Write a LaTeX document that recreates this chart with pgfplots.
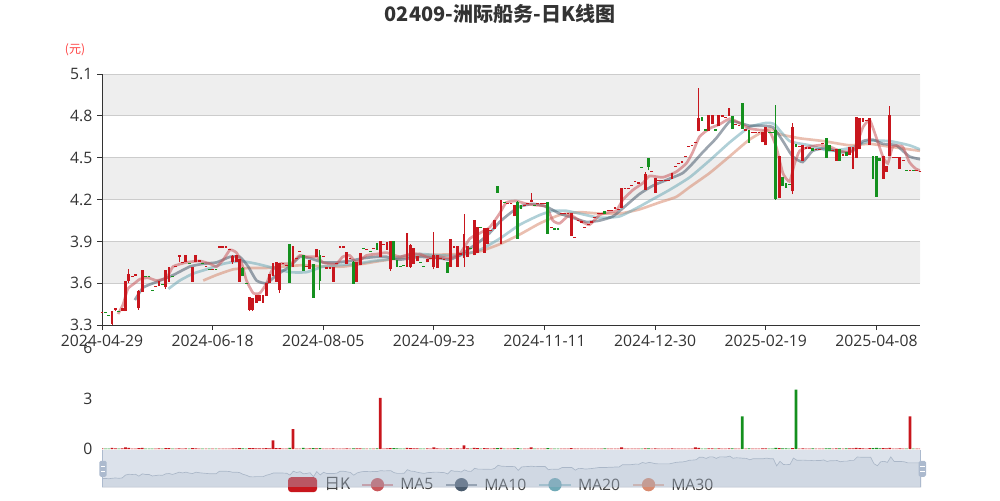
\documentclass[border=0pt]{standalone}
\usepackage{fontspec}
\setmainfont{Open Sans}
\newfontfamily\cjk{Noto Sans CJK SC}
\usepackage{pgfplots}
\usepackage{pgfplotstable}
\pgfplotsset{compat=1.18}
\definecolor{cred}{HTML}{C8161D}
\definecolor{cgreen}{HTML}{14901E}
\definecolor{axc}{HTML}{333333}
\definecolor{gridc}{HTML}{CCCCCC}
\definecolor{bandc}{HTML}{EEEEEE}
\definecolor{labc}{HTML}{333333}
\definecolor{legc}{HTML}{444444}
\definecolor{ma5}{HTML}{C9575B}
\definecolor{ma10}{HTML}{4A5B6D}
\definecolor{ma20}{HTML}{6FA9B6}
\definecolor{ma30}{HTML}{D88B70}
\definecolor{slidefill}{HTML}{A7B7CC}
\definecolor{handlec}{HTML}{ACBACE}
\definecolor{shadowfill}{HTML}{C9D1DD}
\definecolor{shadowline}{HTML}{AEB8C6}
\pgfplotstableread{
i u o h l c v
0 1 3.39 3.39 3.39 3.39 0.05
1 0 3.39 3.39 3.39 3.39 0.03
2 0 3.37 3.37 3.37 3.37 0.03
3 1 3.31 3.40 3.30 3.40 0.08
4 1 3.41 3.42 3.40 3.42 0.05
5 0 3.40 3.40 3.40 3.40 0.03
6 1 3.40 3.42 3.40 3.42 0.05
7 1 3.40 3.61 3.40 3.61 0.10
8 1 3.62 3.70 3.60 3.66 0.08
9 1 3.65 3.65 3.65 3.65 0.03
10 1 3.66 3.66 3.66 3.66 0.03
11 1 3.42 3.55 3.41 3.54 0.06
12 1 3.54 3.69 3.54 3.69 0.08
13 0 3.65 3.65 3.65 3.65 0.03
14 0 3.65 3.65 3.65 3.65 0.03
15 0 3.55 3.55 3.55 3.55 0.03
16 1 3.58 3.58 3.58 3.58 0.03
17 1 3.58 3.61 3.58 3.61 0.05
18 0 3.59 3.59 3.59 3.59 0.03
19 1 3.57 3.69 3.56 3.69 0.06
20 1 3.61 3.71 3.61 3.71 0.06
21 0 3.65 3.65 3.65 3.65 0.03
22 1 3.72 3.72 3.72 3.72 0.03
23 1 3.79 3.80 3.75 3.80 0.05
24 1 3.75 3.75 3.75 3.75 0.03
25 1 3.75 3.80 3.75 3.80 0.05
26 0 3.74 3.74 3.74 3.74 0.03
27 1 3.61 3.71 3.61 3.71 0.06
28 1 3.75 3.80 3.75 3.80 0.05
29 1 3.76 3.76 3.76 3.76 0.03
30 0 3.74 3.74 3.74 3.74 0.03
31 1 3.72 3.72 3.72 3.72 0.03
32 0 3.70 3.70 3.70 3.70 0.03
33 1 3.70 3.70 3.70 3.70 0.03
34 0 3.70 3.70 3.70 3.70 0.03
35 1 3.86 3.86 3.86 3.86 0.03
36 1 3.86 3.86 3.86 3.86 0.03
37 1 3.86 3.86 3.86 3.86 0.03
38 1 3.84 3.84 3.84 3.84 0.03
39 1 3.75 3.80 3.74 3.79 0.05
40 1 3.75 3.80 3.75 3.80 0.05
41 1 3.61 3.77 3.61 3.77 0.06
42 0 3.71 3.72 3.66 3.66 0.05
43 0 3.60 3.60 3.60 3.60 0.03
44 1 3.41 3.50 3.40 3.50 0.06
45 1 3.41 3.49 3.40 3.49 0.06
46 1 3.46 3.51 3.46 3.51 0.05
47 1 3.47 3.51 3.47 3.51 0.05
48 1 3.46 3.51 3.46 3.51 0.05
49 1 3.51 3.60 3.51 3.60 0.06
50 1 3.60 3.66 3.60 3.66 0.05
51 1 3.65 3.74 3.65 3.74 0.52
52 1 3.61 3.75 3.61 3.75 0.06
53 1 3.55 3.74 3.53 3.74 0.06
54 1 3.74 3.74 3.74 3.74 0.03
55 1 3.73 3.73 3.73 3.73 0.03
56 0 3.88 3.88 3.61 3.61 0.08
57 1 3.72 3.86 3.72 3.86 1.19
58 1 3.78 3.78 3.78 3.78 0.03
59 1 3.83 3.83 3.83 3.83 0.03
60 0 3.80 3.80 3.69 3.69 0.08
61 1 3.72 3.72 3.72 3.72 0.03
62 1 3.70 3.76 3.70 3.76 0.05
63 0 3.74 3.74 3.50 3.50 0.06
64 1 3.79 3.84 3.79 3.84 0.05
65 0 3.80 3.84 3.55 3.62 0.06
66 1 3.79 3.79 3.79 3.79 0.03
67 1 3.71 3.71 3.71 3.71 0.03
68 1 3.71 3.71 3.71 3.71 0.03
69 1 3.61 3.72 3.61 3.71 0.05
70 1 3.74 3.74 3.74 3.74 0.03
71 1 3.86 3.86 3.86 3.86 0.03
72 1 3.86 3.86 3.86 3.86 0.03
73 1 3.74 3.82 3.74 3.82 0.05
74 1 3.78 3.78 3.78 3.78 0.03
75 0 3.75 3.76 3.60 3.60 0.05
76 1 3.61 3.75 3.61 3.75 0.05
77 1 3.73 3.81 3.73 3.81 0.05
78 0 3.85 3.85 3.85 3.85 0.03
79 1 3.84 3.84 3.84 3.84 0.03
80 0 3.83 3.83 3.83 3.83 0.03
81 1 3.85 3.85 3.85 3.85 0.03
82 0 3.89 3.89 3.84 3.84 0.05
83 1 3.79 3.90 3.79 3.90 3.04
84 1 3.88 3.88 3.88 3.88 0.03
85 1 3.84 3.89 3.84 3.89 0.05
86 1 3.70 3.90 3.69 3.90 0.06
87 0 3.90 3.90 3.77 3.77 0.06
88 0 3.77 3.77 3.72 3.72 0.05
89 0 3.72 3.72 3.72 3.72 0.03
90 0 3.73 3.73 3.73 3.73 0.03
91 1 3.72 3.96 3.72 3.96 0.08
92 1 3.72 3.88 3.71 3.87 0.06
93 1 3.74 3.85 3.74 3.85 0.05
94 1 3.76 3.79 3.76 3.79 0.05
95 0 3.75 3.75 3.75 3.75 0.03
96 0 3.72 3.72 3.72 3.72 0.03
97 1 3.75 3.77 3.75 3.77 0.05
98 1 3.78 3.78 3.78 3.78 0.03
99 1 3.72 3.97 3.70 3.80 0.10
100 1 3.71 3.80 3.71 3.80 0.05
101 1 3.78 3.78 3.78 3.78 0.03
102 1 3.77 3.77 3.77 3.77 0.03
103 0 3.75 3.75 3.68 3.68 0.05
104 1 3.72 3.91 3.72 3.91 0.06
105 1 3.86 3.86 3.86 3.86 0.03
106 1 3.72 3.86 3.72 3.86 0.05
107 1 3.81 3.81 3.81 3.81 0.03
108 1 3.78 4.10 3.72 3.95 0.22
109 1 3.79 3.86 3.79 3.86 0.05
110 0 3.85 3.85 3.85 3.85 0.03
111 1 3.80 4.05 3.80 4.05 0.08
112 1 3.82 4.00 3.82 4.00 0.06
113 0 4.00 4.00 4.00 4.00 0.03
114 1 3.82 3.99 3.82 3.99 0.06
115 1 3.88 3.99 3.88 3.99 0.05
116 1 3.98 3.98 3.98 3.98 0.03
117 1 3.99 4.05 3.99 4.05 0.05
118 0 4.30 4.30 4.25 4.25 0.06
119 1 3.88 4.19 3.88 4.19 0.08
120 0 4.18 4.18 4.18 4.18 0.03
121 1 4.17 4.17 4.17 4.17 0.03
122 1 4.17 4.17 4.17 4.17 0.03
123 1 4.08 4.16 4.08 4.16 0.05
124 0 4.18 4.19 3.92 3.92 0.06
125 0 4.16 4.16 4.14 4.14 0.03
126 1 4.16 4.16 4.16 4.16 0.03
127 1 4.17 4.17 4.17 4.17 0.03
128 1 4.18 4.25 4.18 4.19 0.10
129 0 4.16 4.16 4.16 4.16 0.03
130 1 4.17 4.17 4.17 4.17 0.03
131 1 4.17 4.17 4.17 4.17 0.03
132 1 4.17 4.17 4.17 4.17 0.03
133 0 4.18 4.18 3.96 3.96 0.06
134 1 4.00 4.00 4.00 4.00 0.03
135 0 3.99 3.99 3.99 3.99 0.03
136 0 3.99 3.99 3.99 3.99 0.03
137 1 4.10 4.10 4.10 4.10 0.03
138 1 4.10 4.10 4.10 4.10 0.03
139 1 4.10 4.10 4.10 4.10 0.03
140 1 3.94 4.10 3.94 4.10 0.06
141 1 3.93 3.93 3.93 3.93 0.03
142 1 4.05 4.05 4.05 4.05 0.03
143 1 4.04 4.04 4.04 4.04 0.03
144 1 4.00 4.00 4.00 4.00 0.03
145 1 4.02 4.02 4.02 4.02 0.03
146 1 4.04 4.04 4.04 4.04 0.03
147 1 4.07 4.07 4.07 4.07 0.03
148 1 4.10 4.10 4.10 4.10 0.03
149 1 4.10 4.10 4.10 4.10 0.03
150 0 4.12 4.12 4.10 4.10 0.05
151 1 4.12 4.12 4.12 4.12 0.03
152 1 4.12 4.12 4.12 4.12 0.03
153 1 4.14 4.14 4.14 4.14 0.03
154 1 4.13 4.13 4.13 4.13 0.03
155 1 4.14 4.28 4.14 4.28 0.10
156 1 4.28 4.28 4.28 4.28 0.03
157 1 4.28 4.28 4.28 4.28 0.03
158 1 4.30 4.30 4.30 4.30 0.03
159 1 4.33 4.33 4.33 4.33 0.03
160 1 4.32 4.32 4.32 4.32 0.03
161 0 4.43 4.43 4.43 4.43 0.03
162 1 4.27 4.40 4.27 4.38 0.05
163 0 4.50 4.50 4.41 4.44 0.05
164 1 4.40 4.40 4.40 4.40 0.03
165 1 4.25 4.35 4.25 4.35 0.05
166 1 4.34 4.34 4.34 4.34 0.03
167 1 4.34 4.34 4.34 4.34 0.03
168 1 4.34 4.34 4.34 4.34 0.03
169 1 4.34 4.34 4.34 4.34 0.03
170 1 4.35 4.39 4.35 4.39 0.05
171 1 4.44 4.44 4.44 4.44 0.03
172 1 4.46 4.46 4.46 4.46 0.03
173 1 4.47 4.47 4.47 4.47 0.03
174 1 4.51 4.51 4.51 4.51 0.03
175 1 4.58 4.58 4.58 4.58 0.03
176 1 4.59 4.59 4.59 4.59 0.03
177 1 4.61 4.61 4.61 4.61 0.10
178 1 4.69 5.00 4.69 4.78 0.08
179 0 4.79 4.79 4.77 4.77 0.03
180 0 4.70 4.70 4.70 4.70 0.03
181 1 4.69 4.80 4.69 4.80 0.05
182 1 4.74 4.80 4.74 4.80 0.05
183 0 4.70 4.70 4.70 4.70 0.03
184 1 4.73 4.80 4.73 4.80 0.05
185 1 4.80 4.80 4.80 4.80 0.03
186 1 4.79 4.79 4.79 4.79 0.03
187 1 4.80 4.85 4.80 4.85 0.05
188 0 4.80 4.80 4.71 4.71 0.05
189 1 4.74 4.74 4.74 4.74 0.03
190 1 4.73 4.73 4.73 4.73 0.03
191 0 4.89 4.89 4.71 4.71 1.95
192 1 4.70 4.70 4.70 4.70 0.03
193 0 4.70 4.70 4.61 4.61 0.05
194 1 4.68 4.68 4.68 4.68 0.03
195 1 4.68 4.68 4.68 4.68 0.03
196 1 4.68 4.68 4.68 4.68 0.03
197 1 4.61 4.68 4.61 4.68 0.05
198 1 4.59 4.72 4.59 4.72 0.05
199 0 4.68 4.68 4.68 4.68 0.03
200 0 4.68 4.68 4.68 4.68 0.03
201 0 4.70 4.88 4.20 4.21 0.08
202 1 4.21 4.51 4.21 4.51 0.06
203 0 4.36 4.36 4.30 4.30 0.05
204 0 4.32 4.32 4.29 4.29 0.05
205 0 4.31 4.31 4.31 4.31 0.03
206 1 4.26 4.75 4.24 4.72 0.06
207 0 4.60 4.60 4.58 4.58 3.54
208 1 4.58 4.58 4.58 4.58 0.03
209 1 4.48 4.59 4.48 4.59 0.05
210 1 4.57 4.57 4.57 4.57 0.03
211 1 4.57 4.57 4.57 4.57 0.03
212 0 4.57 4.57 4.55 4.55 0.05
213 1 4.56 4.56 4.56 4.56 0.03
214 1 4.56 4.56 4.56 4.56 0.03
215 1 4.60 4.60 4.60 4.60 0.03
216 0 4.64 4.64 4.50 4.50 0.05
217 0 4.59 4.59 4.55 4.55 0.05
218 1 4.55 4.55 4.55 4.55 0.03
219 1 4.48 4.56 4.48 4.56 0.05
220 0 4.56 4.56 4.48 4.48 0.05
221 1 4.52 4.52 4.52 4.52 0.03
222 0 4.54 4.54 4.52 4.52 0.05
223 1 4.52 4.57 4.52 4.57 0.05
224 1 4.42 4.57 4.42 4.57 0.05
225 1 4.50 4.79 4.50 4.79 0.08
226 1 4.56 4.78 4.56 4.78 0.06
227 1 4.76 4.78 4.76 4.78 0.05
228 1 4.77 4.77 4.77 4.77 0.03
229 1 4.59 4.78 4.59 4.78 0.06
230 0 4.51 4.51 4.35 4.35 0.06
231 0 4.51 4.51 4.22 4.22 0.08
232 0 4.50 4.50 4.48 4.48 0.05
233 1 4.35 4.51 4.35 4.51 0.06
234 1 4.40 4.44 4.40 4.44 0.05
235 1 4.51 4.87 4.51 4.80 0.08
236 1 4.50 4.50 4.50 4.50 0.03
237 1 4.50 4.50 4.50 4.50 0.03
238 1 4.42 4.50 4.42 4.50 0.05
239 1 4.48 4.48 4.48 4.48 0.03
240 0 4.41 4.41 4.41 4.41 0.03
241 1 4.41 4.41 4.41 4.41 1.95
242 0 4.41 4.41 4.41 4.41 0.03
243 1 4.41 4.41 4.41 4.41 0.03
244 1 4.40 4.40 4.40 4.40 0.03
}\candles

\begin{document}
\begin{tikzpicture}
% ---------------- main K-line axis ----------------
\begin{axis}[
  set layers,
  at={(76.5pt,131.25pt)}, anchor=south west,
  scale only axis, width=613.5pt, height=188.25pt,
  xmin=0, xmax=244, ymin=3.3, ymax=5.1,
  axis lines*=left,
  axis line style={draw=axc, line width=0.75pt},
  ytick={3.3,3.6,3.9,4.2,4.5,4.8,5.1},
  yticklabels={3.3,3.6,3.9,4.2,4.5,4.8,5.1},
  xtick={0,33,66,99,132,165,198,231},
  xticklabels={2024-04-29,2024-06-18,2024-08-05,2024-09-23,2024-11-11,2024-12-30,2025-02-19,2025-04-08},
  tick align=outside, major tick length=3.75pt,
  tick style={draw=axc, line width=0.75pt},
  ymajorgrids, grid style={draw=gridc, line width=0.75pt},
  tick label style={font=\fontsize{11.8}{14}\selectfont, text=labc},
]
% background bands
\addplot[on layer=axis background, fill=bandc, draw=none, forget plot] coordinates {(0,4.8) (244,4.8) (244,5.1) (0,5.1) (0,4.8)};
\addplot[on layer=axis background, fill=bandc, draw=none, forget plot] coordinates {(0,4.2) (244,4.2) (244,4.5) (0,4.5) (0,4.2)};
\addplot[on layer=axis background, fill=bandc, draw=none, forget plot] coordinates {(0,3.6) (244,3.6) (244,3.9) (0,3.9) (0,3.6)};
% MA lines
\addplot[ma30, line width=2pt, opacity=0.55, smooth, tension=0.3] coordinates {
(30.2,3.62) (34.2,3.66) (39.1,3.70) (44.1,3.71) (49.1,3.71) (54,3.72) (60,3.73) (66,3.72) (71.9,3.72) (77.9,3.74) (82.9,3.76) (94.8,3.80) (106.7,3.81) (112.7,3.83) (118.6,3.88) (124.6,3.95) (130.6,4.03) (136.5,4.09) (142.5,4.11) (148.4,4.10) (154.4,4.10) (160.3,4.13) (166.3,4.18) (171.3,4.22) (175.3,4.29) (181.2,4.39) (187.2,4.51) (193.1,4.63) (199.1,4.71) (202.1,4.67) (208.1,4.64) (215.2,4.62) (222.9,4.59) (229,4.60) (234.9,4.58) (244,4.55)};
\addplot[ma20, line width=2pt, opacity=0.55, smooth, tension=0.3] coordinates {
(19.8,3.56) (23.2,3.62) (27.2,3.67) (31.2,3.70) (36.2,3.74) (41.1,3.76) (46.1,3.74) (51.1,3.71) (56,3.68) (61,3.68) (66,3.72) (70.9,3.73) (75.9,3.74) (80.9,3.76) (84.9,3.77) (88.8,3.79) (94.8,3.81) (100.7,3.80) (106.7,3.80) (112.7,3.84) (118.6,3.92) (124.6,4.02) (130.6,4.09) (134.5,4.12) (138.5,4.12) (142.5,4.10) (148.4,4.07) (154.4,4.08) (160.3,4.15) (163.3,4.19) (169.3,4.27) (175.3,4.36) (181.2,4.48) (187.2,4.61) (193.1,4.72) (198.1,4.75) (200.6,4.74) (205.1,4.62) (211,4.59) (217,4.55) (223,4.57) (229,4.62) (234.9,4.62) (240.8,4.59) (244,4.56)};
\addplot[ma10, line width=2pt, opacity=0.55, smooth, tension=0.3] coordinates {
(9.8,3.48) (12.3,3.57) (16.3,3.61) (21.3,3.66) (26.2,3.72) (30.2,3.74) (34.2,3.75) (38.2,3.79) (41.1,3.79) (43.6,3.72) (46.1,3.62) (49.1,3.60) (52.1,3.66) (56,3.72) (59,3.79) (62,3.78) (66,3.75) (70,3.75) (73.9,3.76) (77.9,3.78) (81.9,3.79) (84.9,3.79) (88.8,3.77) (94.8,3.79) (100.7,3.78) (103.7,3.77) (106.7,3.80) (109.7,3.85) (112.7,3.90) (115.6,3.96) (118.6,4.04) (121.6,4.10) (124.6,4.15) (128.6,4.17) (132.5,4.15) (136.5,4.10) (140.5,4.07) (144.5,4.04) (148.4,4.05) (152.4,4.08) (156.4,4.16) (160.3,4.24) (164.3,4.30) (169.3,4.35) (173.2,4.39) (176.2,4.46) (179.2,4.54) (183.2,4.64) (187.2,4.76) (190.2,4.75) (193.1,4.73) (196.1,4.73) (200.1,4.72) (203.1,4.62) (206,4.51) (209,4.47) (212,4.55) (216,4.57) (220,4.54) (224,4.55) (227,4.62) (230,4.63) (232.9,4.60) (236.9,4.59) (240.8,4.51) (244,4.49)};
\addplot[ma5, line width=2pt, opacity=0.55, smooth, tension=0.3] coordinates {
(4.8,3.38) (6.3,3.45) (7.7,3.56) (9.7,3.60) (11.3,3.63) (13.7,3.64) (16.3,3.62) (19.3,3.64) (21.2,3.72) (25.2,3.75) (29.2,3.76) (32.2,3.74) (34.2,3.72) (36.2,3.77) (38.2,3.84) (40.1,3.82) (41.6,3.75) (43.1,3.62) (45.1,3.53) (47.1,3.53) (49.1,3.60) (50.6,3.69) (53.1,3.74) (55,3.74) (56.9,3.75) (59,3.80) (61,3.79) (64,3.79) (65.9,3.75) (67.9,3.74) (70,3.74) (71.8,3.79) (73.9,3.80) (75.9,3.75) (78.9,3.80) (81.9,3.81) (84.9,3.82) (88.8,3.79) (91.8,3.81) (94.8,3.81) (97.8,3.78) (100.7,3.79) (103.7,3.78) (106.7,3.81) (109.7,3.92) (112.7,3.96) (115.6,4.00) (118.6,4.10) (120.6,4.18) (123.6,4.19) (126.6,4.17) (129.6,4.16) (132.5,4.15) (134.5,4.05) (136.5,4.03) (139.5,4.09) (142.5,4.05) (145.4,4.02) (148.4,4.09) (151.4,4.11) (153.4,4.12) (155.4,4.20) (158.4,4.27) (161.4,4.32) (163.3,4.37) (167.3,4.36) (171.3,4.40) (174.3,4.46) (176.2,4.54) (178.2,4.65) (181.2,4.71) (184.2,4.74) (187.2,4.78) (190.2,4.75) (193.1,4.71) (196.1,4.70) (199.1,4.69) (201.1,4.58) (203.1,4.39) (205.1,4.33) (206.6,4.46) (208.1,4.55) (211,4.58) (214,4.59) (217,4.58) (220,4.55) (223,4.54) (225,4.59) (227,4.72) (229,4.77) (230.9,4.65) (232.9,4.51) (234.4,4.46) (235.9,4.58) (238.8,4.58) (240.8,4.47) (242.8,4.42) (244,4.41)};
% wicks
\addplot[draw=none, mark=none, restrict x to domain=-1:245,
  error bars/.cd, y dir=plus, y explicit, error mark=none,
  error bar style={draw=cred, line width=0.75pt}]
  table[x expr=\thisrow{i}+1000*(1-\thisrow{u}), y=l, y error expr=\thisrow{h}-\thisrow{l}] {\candles};
\addplot[draw=none, mark=none, restrict x to domain=-1:245,
  error bars/.cd, y dir=plus, y explicit, error mark=none,
  error bar style={draw=cgreen, line width=0.75pt}]
  table[x expr=\thisrow{i}+1000*\thisrow{u}, y=l, y error expr=\thisrow{h}-\thisrow{l}] {\candles};
% bodies
\addplot[draw=none, mark=none, restrict x to domain=-1:245,
  error bars/.cd, y dir=plus, y explicit, error mark=none,
  error bar style={draw=cred, line width=2.1pt}]
  table[x expr=\thisrow{i}+1000*(1-\thisrow{u}), y=o, y error expr=\thisrow{c}-\thisrow{o}] {\candles};
\addplot[draw=none, mark=none, restrict x to domain=-1:245,
  error bars/.cd, y dir=plus, y explicit, error mark=none,
  error bar style={draw=cgreen, line width=2.1pt}]
  table[x expr=\thisrow{i}+1000*\thisrow{u}, y=c, y error expr=\thisrow{o}-\thisrow{c}] {\candles};
% doji dashes
\addplot[only marks, mark=-, mark size=1.05pt, mark options={draw=cred, line width=0.9pt}, restrict x to domain=-1:245]
  table[x expr=\thisrow{i}+1000*(1-\thisrow{u}), y=c] {\candles};
\addplot[only marks, mark=-, mark size=1.05pt, mark options={draw=cgreen, line width=0.9pt}, restrict x to domain=-1:245]
  table[x expr=\thisrow{i}+1000*\thisrow{u}, y=c] {\candles};
\end{axis}
% ---------------- volume axis ----------------
\begin{axis}[
  at={(76.5pt,38.25pt)}, anchor=south west,
  scale only axis, width=613.5pt, height=75.75pt,
  xmin=0, xmax=244, ymin=0, ymax=6,
  ytick={0,3,6}, yticklabels={0,3,6}, xtick=\empty,
  ytick pos=left,
  axis line style={draw=none},
  tick align=outside, major tick length=3.75pt,
  major tick style={draw=none},
  tick label style={font=\fontsize{11.8}{14}\selectfont, text=labc},
]
\addplot[ybar, bar width=2.1pt, bar shift=0pt, fill=cred, draw=none, restrict x to domain=-1:245]
  table[x expr=\thisrow{i}+1000*(1-\thisrow{u}), y=v] {\candles};
\addplot[ybar, bar width=2.1pt, bar shift=0pt, fill=cgreen, draw=none, restrict x to domain=-1:245]
  table[x expr=\thisrow{i}+1000*\thisrow{u}, y=v] {\candles};
\end{axis}
% ---------------- slider data shadow ----------------
\begin{axis}[
  at={(76.5pt,9.75pt)}, anchor=south west,
  scale only axis, width=614.25pt, height=27.75pt,
  xmin=0, xmax=244, ymin=2.82, ymax=5.24,
  hide axis,
]
\addplot[draw=shadowline, line width=0.5pt, fill=shadowfill, fill opacity=0.35]
  table[x=i, y=c] {\candles} \closedcycle;
\end{axis}
% ---------------- legend ----------------
\begin{scope}[font=\fontsize{11.8}{14}\selectfont]
\fill[cred, rounded corners=2.5pt] (216pt,6pt) rectangle (237.75pt,17.25pt);
\node[anchor=west, text=legc, inner sep=0pt] at (243pt,11.8pt) {\cjk 日K};
\draw[ma5, opacity=.6, line width=1.5pt] (271.5pt,11.6pt) -- (294.75pt,11.6pt);
\fill[ma5] (283.1pt,11.6pt) circle (5pt);
\node[anchor=west, text=legc, inner sep=0pt] at (300pt,11.8pt) {MA5};
\draw[ma10, opacity=.6, line width=1.5pt] (334.5pt,11.6pt) -- (357.75pt,11.6pt);
\fill[ma10] (346.1pt,11.6pt) circle (5pt);
\node[anchor=west, text=legc, inner sep=0pt] at (363pt,11.8pt) {MA10};
\draw[ma20, opacity=.6, line width=1.5pt] (404.5pt,11.6pt) -- (428pt,11.6pt);
\fill[ma20] (416.25pt,11.6pt) circle (5pt);
\node[anchor=west, text=legc, inner sep=0pt] at (433.3pt,11.8pt) {MA20};
\draw[ma30, opacity=.6, line width=1.5pt] (474.75pt,11.6pt) -- (498pt,11.6pt);
\fill[ma30] (486.4pt,11.6pt) circle (5pt);
\node[anchor=west, text=legc, inner sep=0pt] at (503.25pt,11.8pt) {MA30};
\end{scope}
% ---------------- slider filler and handles ----------------
\fill[slidefill, opacity=0.4] (76.5pt,9.75pt) rectangle (690.75pt,37.5pt);
\draw[handlec, line width=1.2pt] (77pt,9.75pt) -- (77pt,37.5pt);
\draw[handlec, line width=1.2pt] (690.3pt,9.75pt) -- (690.3pt,37.5pt);
\fill[handlec, rounded corners=1.2pt] (74.5pt,17.5pt) rectangle (80pt,29.5pt);
\fill[handlec, rounded corners=1.2pt] (689pt,17.5pt) rectangle (694.5pt,29.5pt);
\draw[white, line width=0.6pt] (75.6pt,21.6pt) -- (78.9pt,21.6pt) (75.6pt,25.4pt) -- (78.9pt,25.4pt);
\draw[white, line width=0.6pt] (690.1pt,21.6pt) -- (693.4pt,21.6pt) (690.1pt,25.4pt) -- (693.4pt,25.4pt);
% ---------------- title and unit ----------------
\node[font=\cjk\bfseries\fontsize{15}{18}\selectfont, text=labc] at (375pt,364.5pt) {02409-洲际船务-日K线图};
\node[font=\cjk\fontsize{9}{11}\selectfont, text=red!75!white] at (56.25pt,337.5pt) {(元)};
\path[use as bounding box] (0,0) rectangle (750pt,375pt);
\end{tikzpicture}
\end{document}
